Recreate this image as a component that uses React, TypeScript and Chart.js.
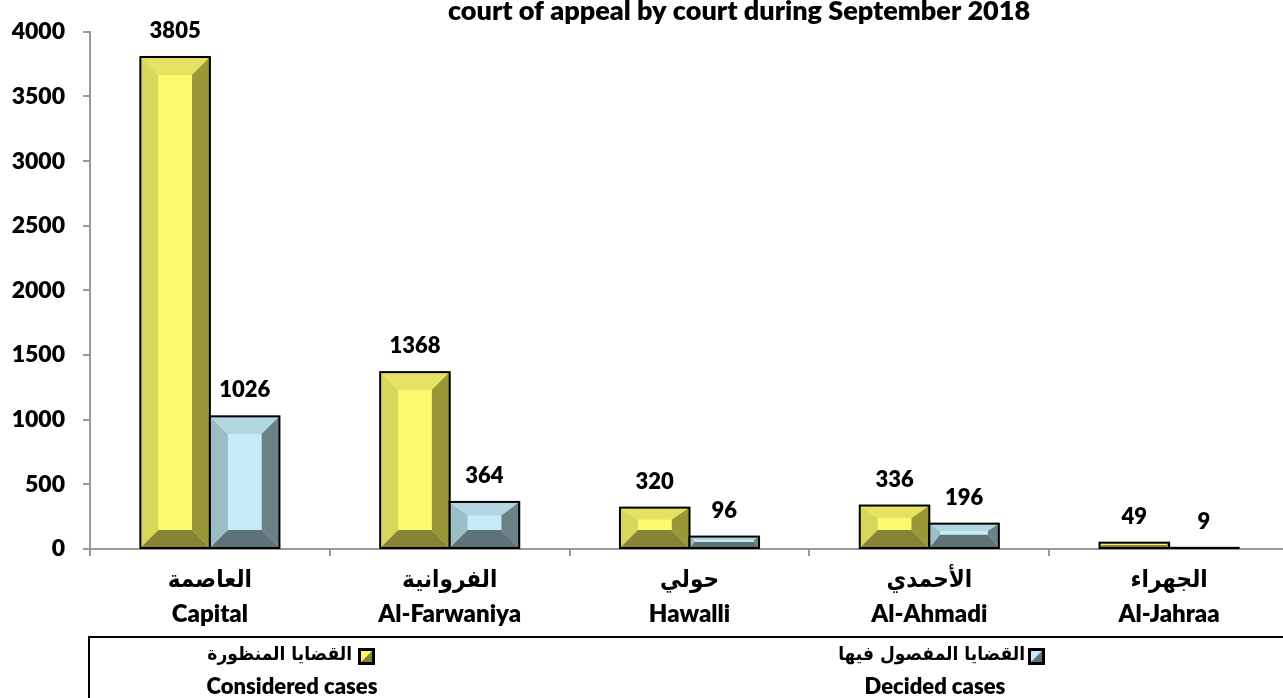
import React, { useEffect, useRef } from 'react';
import { Chart, registerables } from 'chart.js';

Chart.register(...registerables);

const titleText = 'court of appeal by court during September 2018';
const courtsArabic = ['العاصمة', 'الفروانية', 'حولي', 'الأحمدي', 'الجهراء'];
const courtsEnglish = ['Capital', 'Al-Farwaniya', 'Hawalli', 'Al-Ahmadi', 'Al-Jahraa'];
const consideredCases = [3805, 1368, 320, 336, 49];
const decidedCases = [1026, 364, 96, 196, 9];
const yTickValues = [0, 500, 1000, 1500, 2000, 2500, 3000, 3500, 4000];
const seriesArabic = ['القضايا المنظورة', 'القضايا المفصول فيها'];
const seriesEnglish = ['Considered cases', 'Decided cases'];

const FONT = "Lato, 'DejaVu Sans Condensed', 'DejaVu Sans', sans-serif";
const AR_FONT = "'DejaVu Sans Condensed', 'DejaVu Sans', sans-serif";
const W = '800';

const palettes = [
  { face: '#FBFA6C', left: '#D8D75C', top: '#E4E363', right: '#9A9739', bottom: '#878438' },
  { face: '#C6EDF7', left: '#9DBDC6', top: '#B2D7E1', right: '#6D8287', bottom: '#5E7277' },
];

function drawBevel(ctx: CanvasRenderingContext2D, L: number, T: number, R: number, B: number, p: any) {
  const w = R - L;
  const h = B - T;
  if (h <= 0) return;
  const s = Math.min(18, w * 0.27, h * 0.45);
  const t = Math.min(18, h * 0.3);
  const b = Math.min(18, h * 0.55);
  const poly = (pts: number[][], color: string) => {
    ctx.beginPath();
    ctx.moveTo(pts[0][0], pts[0][1]);
    for (let i = 1; i < pts.length; i++) ctx.lineTo(pts[i][0], pts[i][1]);
    ctx.closePath();
    ctx.fillStyle = color;
    ctx.fill();
  };
  poly([[L, T], [R, T], [R, B], [L, B]], p.face);
  poly([[L, T], [L + s, T + t], [L + s, B - b], [L, B]], p.left);
  poly([[L, T], [R, T], [R - s, T + t], [L + s, T + t]], p.top);
  poly([[R, T], [R, B], [R - s, B - b], [R - s, T + t]], p.right);
  poly([[L, B], [L + s, B - b], [R - s, B - b], [R, B]], p.bottom);
  poly([[L + s, T + t], [R - s, T + t], [R - s, B - b], [L + s, B - b]], p.face);
  ctx.lineWidth = 2;
  ctx.strokeStyle = '#000';
  ctx.strokeRect(L, T, w, h);
}

const bevelPlugin = {
  id: 'bevelBars',
  afterDatasetsDraw(chart: any) {
    const ctx = chart.ctx as CanvasRenderingContext2D;
    ctx.save();
    chart.data.datasets.forEach((ds: any, di: number) => {
      const meta = chart.getDatasetMeta(di);
      meta.data.forEach((el: any, i: number) => {
        const { x, y, base, width } = el.getProps(['x', 'y', 'base', 'width'], true);
        drawBevel(ctx, x - width / 2, Math.min(y, base), x + width / 2, Math.max(y, base), palettes[di]);
        ctx.fillStyle = '#000';
        ctx.font = `${W} 22px ${FONT}`;
        ctx.textAlign = 'center';
        ctx.textBaseline = 'middle';
        ctx.fillText(String(ds.data[i]), x, y - 26);
      });
    });
    ctx.restore();
  },
};

function drawSwatch(ctx: CanvasRenderingContext2D, x: number, y: number, size: number, p: any) {
  ctx.fillStyle = '#000';
  ctx.fillRect(x, y, size, size);
  const i = 3;
  ctx.fillStyle = p.bottom;
  ctx.fillRect(x + i, y + i, size - 2 * i, size - 2 * i);
  ctx.beginPath();
  ctx.moveTo(x + i, y + size - i);
  ctx.lineTo(x + size - i, y + i);
  ctx.lineTo(x + i, y + i);
  ctx.closePath();
  ctx.fillStyle = p.face;
  ctx.fill();
}

const decorPlugin = {
  id: 'decor',
  afterDraw(chart: any) {
    const ctx = chart.ctx as CanvasRenderingContext2D;
    ctx.save();
    // title (partially cut at the top, as in the reference)
    ctx.fillStyle = '#000';
    ctx.font = `${W} 27px ${FONT}`;
    ctx.textAlign = 'center';
    ctx.textBaseline = 'alphabetic';
    ctx.fillText(titleText, 739, 20);

    // legend box
    ctx.lineWidth = 2;
    ctx.strokeStyle = '#000';
    ctx.strokeRect(89, 637, 1300, 120);

    const items = [
      { swX: 358, arRight: 352, enX: 292 },
      { swX: 1028, arRight: 1025, enX: 935 },
    ];
    items.forEach((it, k) => {
      drawSwatch(ctx, it.swX, 648, 17, palettes[k]);
      ctx.fillStyle = '#000';
      ctx.font = `bold 19px ${AR_FONT}`;
      ctx.textAlign = 'right';
      ctx.textBaseline = 'middle';
      ctx.fillText(seriesArabic[k], it.arRight, 655);
      ctx.font = `${W} 22px ${FONT}`;
      ctx.textAlign = 'center';
      ctx.fillText(seriesEnglish[k], it.enX, 687);
    });
    ctx.restore();
  },
};

export default function App() {
  const ref = useRef<HTMLCanvasElement>(null);
  useEffect(() => {
    if (!ref.current) return;
    const chart = new Chart(ref.current, {
      type: 'bar',
      data: {
        labels: courtsArabic.map((a, i) => [a, courtsEnglish[i]]),
        datasets: [
          { label: seriesEnglish[0], data: consideredCases, backgroundColor: palettes[0].face, borderWidth: 0, barPercentage: 1, categoryPercentage: 0.58 },
          { label: seriesEnglish[1], data: decidedCases, backgroundColor: palettes[1].face, borderWidth: 0, barPercentage: 1, categoryPercentage: 0.58 },
        ],
      },
      options: {
        responsive: false,
        animation: false,
        devicePixelRatio: 1,
        layout: { padding: { top: 28, right: 11, left: 0, bottom: 0 } },
        plugins: { legend: { display: false }, tooltip: { enabled: false }, title: { display: false } },
        scales: {
          x: {
            afterFit: (s: any) => { s.height = 149; },
            grid: { display: true, drawOnChartArea: false, drawTicks: true, tickLength: 7, color: '#999', lineWidth: 2, offset: true },
            border: { display: true, color: '#999', width: 2 },
            ticks: { color: '#000', padding: 6, font: { family: FONT, size: 24, weight: W, lineHeight: 35 / 24 }, maxRotation: 0, autoSkip: false },
          },
          y: {
            min: 0,
            max: 4000,
            afterFit: (s: any) => { s.width = 90; },
            afterBuildTicks: (s: any) => { s.ticks = yTickValues.map((v) => ({ value: v })); },
            grid: { display: true, drawOnChartArea: false, drawTicks: true, tickLength: 7, color: '#999', lineWidth: 2 },
            border: { display: true, color: '#999', width: 2 },
            ticks: { color: '#000', padding: 18, font: { family: FONT, size: 23, weight: W }, callback: (v: any) => String(v) },
          },
        },
      },
      plugins: [bevelPlugin, decorPlugin],
    } as any);
    return () => chart.destroy();
  }, []);
  return (
    <div style={{ position: 'fixed', left: 0, top: 0, width: 1283, height: 698, overflow: 'hidden', background: '#fff' }}>
      <canvas ref={ref} width={1300} height={698} style={{ display: 'block' }} />
    </div>
  );
}
